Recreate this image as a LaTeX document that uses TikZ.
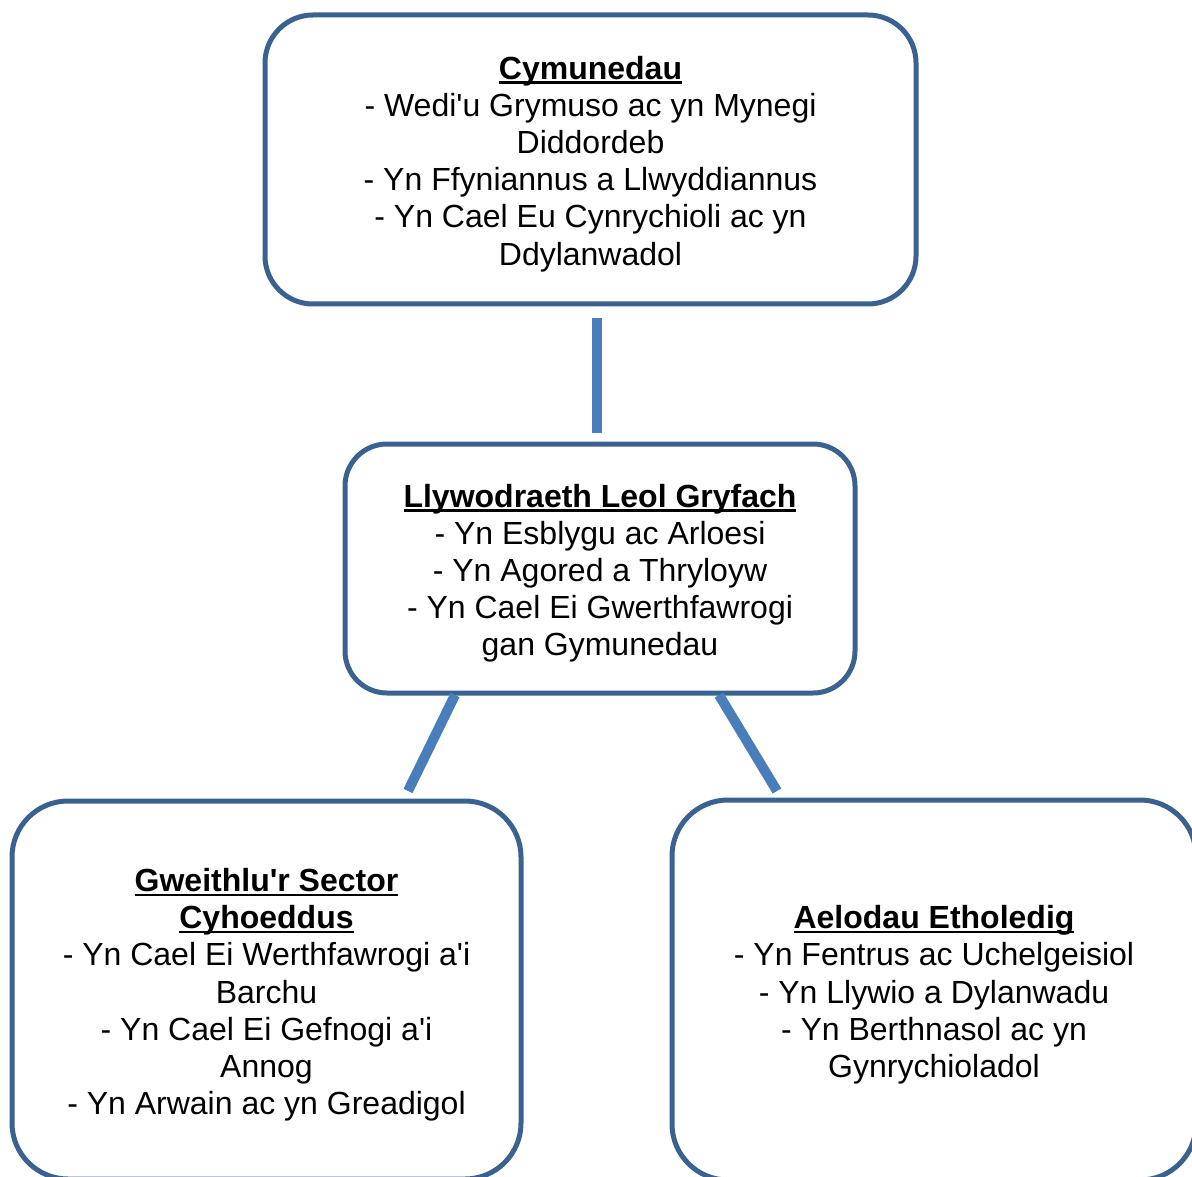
\documentclass[tikz,border=0pt]{standalone}
\usepackage{fontspec}
\setmainfont{Liberation Sans}
\definecolor{boxblue}{HTML}{3B6191}
\definecolor{linkblue}{HTML}{4A7EBB}
\newcommand\myul[1]{\setbox0\hbox{\textbf{#1}}\rlap{\rule[-2.2pt]{\wd0}{1.1pt}}\box0}
\newcommand\ap{\textquotesingle}
\begin{document}
\begin{tikzpicture}[x=0.5pt,y=-0.5pt,
  box/.style={draw=boxblue,line width=2.5pt,fill=white,inner sep=0pt},
  txt/.style={align=center,inner sep=0pt,font=\fontsize{16pt}{18.6pt}\selectfont},
  conn/.style={draw=linkblue,line width=5pt}]
\useasboundingbox (0,0) rectangle (1192,1176);
\node[box,rounded corners=24pt,minimum width=651*0.5pt,minimum height=289*0.5pt] (top) at (590.5,159.5) {};
\node[txt] (toptxt) at ([yshift=-2.2pt]top.center)
 {\myul{Cymunedau}\\- Wedi\ap u Grymuso ac yn Mynegi\\Diddordeb\\- Yn Ffyniannus a Llwyddiannus\\- Yn Cael Eu Cynrychioli ac yn\\Ddylanwadol};
\node[box,rounded corners=21pt,minimum width=510*0.5pt,minimum height=249*0.5pt] (mid) at (600,568.5) {};
\node[txt] (midtxt) at ([yshift=-2.4pt]mid.center)
 {\myul{Llywodraeth Leol Gryfach}\\- Yn Esblygu ac Arloesi\\- Yn Agored a Thryloyw\\- Yn Cael Ei Gwerthfawrogi\\gan Gymunedau};
\node[box,rounded corners=28pt,minimum width=509*0.5pt,minimum height=378*0.5pt] (left) at (266.5,990) {};
\node[txt] (lefttxt) at ([yshift=-2.4pt]left.center)
 {\myul{Gweithlu\ap r Sector}\\\myul{Cyhoeddus}\\- Yn Cael Ei Werthfawrogi a\ap i\\Barchu\\- Yn Cael Ei Gefnogi a\ap i\\Annog\\- Yn Arwain ac yn Greadigol};
\node[box,rounded corners=28pt,minimum width=524*0.5pt,minimum height=380*0.5pt] (right) at (934,990) {};
\node[txt] (righttxt) at ([yshift=-2.4pt]right.center)
 {\myul{Aelodau Etholedig}\\- Yn Fentrus ac Uchelgeisiol\\- Yn Llywio a Dylanwadu\\- Yn Berthnasol ac yn\\Gynrychioladol};
\coordinate (c1) at (597,318);
\coordinate (c2) at (597,433);
\coordinate (c3) at (455,695);
\coordinate (c4) at (408,791);
\coordinate (c5) at (719,695);
\coordinate (c6) at (777,791);
\draw[conn] (c1) -- (c2);
\draw[conn] (c3) -- (c4);
\draw[conn] (c5) -- (c6);
\end{tikzpicture}
\end{document}
